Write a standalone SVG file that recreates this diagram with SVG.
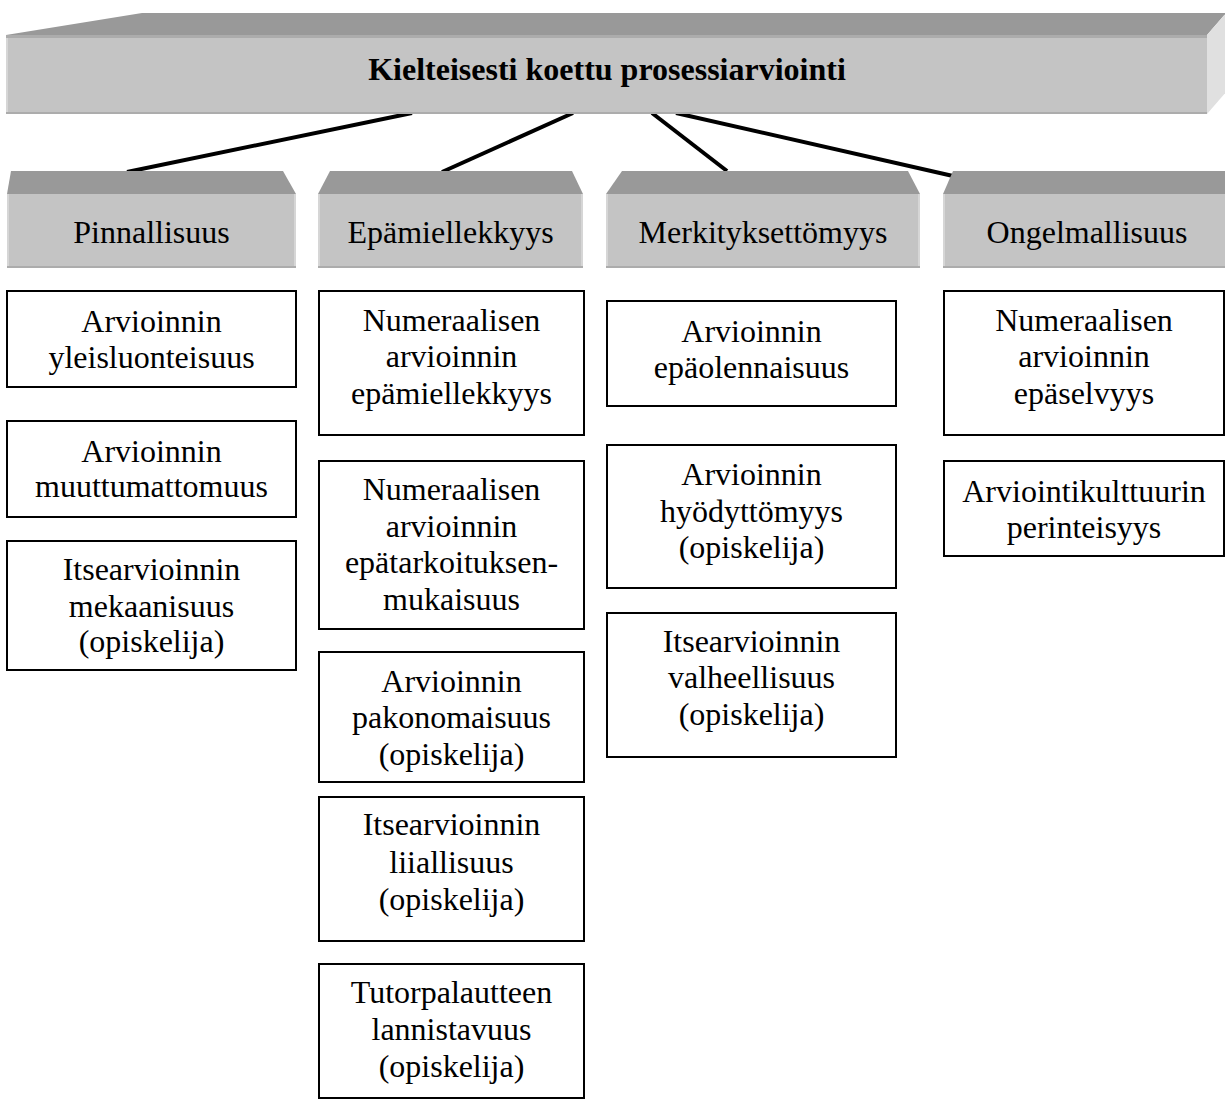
<svg xmlns="http://www.w3.org/2000/svg" width="1225" height="1104" viewBox="0 0 1225 1104">
  <style>
    .top { fill: #999999; }
    .front { fill: #c4c4c4; }
    .side { fill: #e0e0e0; }
    .edge-dark { fill: #acacac; }
    .edge-light { fill: #d6d6d6; }
    .box { fill: #ffffff; stroke: #000000; stroke-width: 2; }
    .link { stroke: #000000; stroke-width: 4; fill: none; }
    text { font-family: "Liberation Serif", "Times New Roman", serif; font-size: 32px; fill: #000000; text-anchor: middle; }
    .title { font-weight: bold; }
  </style>

  <rect width="1225" height="1104" fill="#ffffff"/>

  <!-- connectors from the main heading to the four categories -->
  <g id="connectors">
    <line class="link" x1="412" y1="113" x2="127" y2="172"/>
    <line class="link" x1="573" y1="113" x2="442" y2="172"/>
    <line class="link" x1="652" y1="113" x2="727" y2="171"/>
    <line class="link" x1="676" y1="113" x2="953" y2="176"/>
  </g>

  <!-- main heading block -->
  <g id="heading">
    <polygon class="top" points="6,35 142,13 1226,13 1207,35"/>
    <polygon class="side" points="1207,35 1226,13 1226,92 1207,114"/>
    <rect class="front" x="6" y="35" width="1201" height="79"/>
    <rect class="edge-dark" x="6" y="35" width="1201" height="3"/>
    <rect class="edge-dark" x="6" y="112" width="1201" height="2"/>
    <rect class="edge-light" x="6" y="38" width="2" height="74"/>
    <text class="title" x="607" y="80">Kielteisesti koettu prosessiarviointi</text>
  </g>

  <!-- category blocks -->
  <g id="cat-pinnallisuus">
    <polygon class="top" points="11,171 283,171 296,194 7,194"/>
    <rect class="front" x="7" y="194" width="289" height="74"/>
    <rect class="edge-light" x="7" y="194" width="2" height="74"/>
    <rect class="edge-light" x="294" y="194" width="2" height="74"/>
    <rect class="edge-dark" x="7" y="266" width="289" height="2"/>
    <text x="151.5" y="243">Pinnallisuus</text>
  </g>
  <g id="cat-epamiellekkyys">
    <polygon class="top" points="330,171 572,171 583,194 318,194"/>
    <rect class="front" x="318" y="194" width="265" height="74"/>
    <rect class="edge-light" x="318" y="194" width="2" height="74"/>
    <rect class="edge-light" x="581" y="194" width="2" height="74"/>
    <rect class="edge-dark" x="318" y="266" width="265" height="2"/>
    <text x="450.5" y="243">Epämiellekkyys</text>
  </g>
  <g id="cat-merkityksettomyys">
    <polygon class="top" points="622,171 908,171 920,194 606,194"/>
    <rect class="front" x="606" y="194" width="314" height="74"/>
    <rect class="edge-light" x="606" y="194" width="2" height="74"/>
    <rect class="edge-light" x="918" y="194" width="2" height="74"/>
    <rect class="edge-dark" x="606" y="266" width="314" height="2"/>
    <text x="763" y="243">Merkityksettömyys</text>
  </g>
  <g id="cat-ongelmallisuus">
    <polygon class="top" points="953,171 1226,171 1226,194 943,194"/>
    <rect class="front" x="943" y="194" width="283" height="74"/>
    <rect class="edge-light" x="943" y="194" width="2" height="74"/>
    <rect class="edge-dark" x="943" y="266" width="283" height="2"/>
    <text x="1087" y="243">Ongelmallisuus</text>
  </g>

  <!-- column 1: Pinnallisuus -->
  <g id="p1">
    <rect class="box" x="7" y="291" width="289" height="96"/>
    <text x="151.5" y="332">Arvioinnin</text>
    <text x="151.5" y="368">yleisluonteisuus</text>
  </g>
  <g id="p2">
    <rect class="box" x="7" y="421" width="289" height="96"/>
    <text x="151.5" y="462">Arvioinnin</text>
    <text x="151.5" y="497">muuttumattomuus</text>
  </g>
  <g id="p3">
    <rect class="box" x="7" y="541" width="289" height="129"/>
    <text x="151.5" y="580">Itsearvioinnin</text>
    <text x="151.5" y="617">mekaanisuus</text>
    <text x="151.5" y="652">(opiskelija)</text>
  </g>

  <!-- column 2: Epämiellekkyys -->
  <g id="e1">
    <rect class="box" x="319" y="291" width="265" height="144"/>
    <text x="451.5" y="331">Numeraalisen</text>
    <text x="451.5" y="367">arvioinnin</text>
    <text x="451.5" y="404">epämiellekkyys</text>
  </g>
  <g id="e2">
    <rect class="box" x="319" y="461" width="265" height="168"/>
    <text x="451.5" y="500">Numeraalisen</text>
    <text x="451.5" y="537">arvioinnin</text>
    <text x="451.5" y="573">epätarkoituksen-</text>
    <text x="451.5" y="610">mukaisuus</text>
  </g>
  <g id="e3">
    <rect class="box" x="319" y="652" width="265" height="130"/>
    <text x="451.5" y="692">Arvioinnin</text>
    <text x="451.5" y="728">pakonomaisuus</text>
    <text x="451.5" y="765">(opiskelija)</text>
  </g>
  <g id="e4">
    <rect class="box" x="319" y="797" width="265" height="144"/>
    <text x="451.5" y="835">Itsearvioinnin</text>
    <text x="451.5" y="873">liiallisuus</text>
    <text x="451.5" y="910">(opiskelija)</text>
  </g>
  <g id="e5">
    <rect class="box" x="319" y="964" width="265" height="134"/>
    <text x="451.5" y="1003">Tutorpalautteen</text>
    <text x="451.5" y="1040">lannistavuus</text>
    <text x="451.5" y="1077">(opiskelija)</text>
  </g>

  <!-- column 3: Merkityksettömyys -->
  <g id="m1">
    <rect class="box" x="607" y="301" width="289" height="105"/>
    <text x="751.5" y="342">Arvioinnin</text>
    <text x="751.5" y="378">epäolennaisuus</text>
  </g>
  <g id="m2">
    <rect class="box" x="607" y="445" width="289" height="143"/>
    <text x="751.5" y="485">Arvioinnin</text>
    <text x="751.5" y="522">hyödyttömyys</text>
    <text x="751.5" y="558">(opiskelija)</text>
  </g>
  <g id="m3">
    <rect class="box" x="607" y="613" width="289" height="144"/>
    <text x="751.5" y="652">Itsearvioinnin</text>
    <text x="751.5" y="688">valheellisuus</text>
    <text x="751.5" y="725">(opiskelija)</text>
  </g>

  <!-- column 4: Ongelmallisuus -->
  <g id="o1">
    <rect class="box" x="944" y="291" width="280" height="144"/>
    <text x="1084" y="331">Numeraalisen</text>
    <text x="1084" y="367">arvioinnin</text>
    <text x="1084" y="404">epäselvyys</text>
  </g>
  <g id="o2">
    <rect class="box" x="944" y="461" width="280" height="95"/>
    <text x="1084" y="502">Arviointikulttuurin</text>
    <text x="1084" y="538">perinteisyys</text>
  </g>
</svg>
